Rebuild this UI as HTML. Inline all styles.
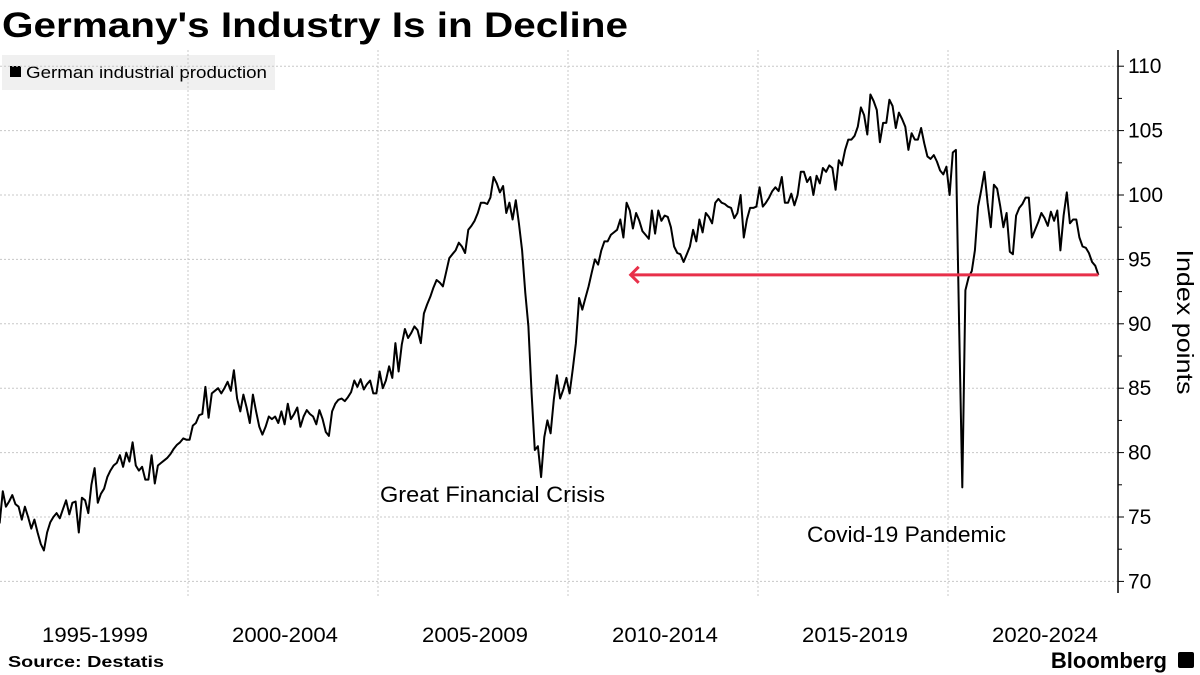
<!DOCTYPE html>
<html><head><meta charset="utf-8">
<style>
body{margin:0;background:#fff;width:1200px;height:675px;overflow:hidden;font-family:"Liberation Sans",sans-serif}
svg{position:absolute;left:0;top:0}
</style></head>
<body>
<svg id="chart" width="1200" height="675" viewBox="0 0 1200 675">
  <text x="2" y="37" font-size="35" font-weight="bold" fill="#000" textLength="626" lengthAdjust="spacingAndGlyphs">Germany's Industry Is in Decline</text>
  <g>
    <rect x="2" y="55" width="273" height="35" fill="#f0f0f0"/>
    <rect x="10" y="66" width="11" height="11" fill="#000"/>
    <text x="26" y="78" font-size="17" fill="#000" textLength="241" lengthAdjust="spacingAndGlyphs">German industrial production</text>
  </g>
  <g id="grid"></g>
  <g id="axis"></g>
  <g id="xaxis"></g>
  <text transform="translate(1177,322) rotate(90)" text-anchor="middle" font-size="23" fill="#000" textLength="145" lengthAdjust="spacingAndGlyphs">Index points</text>
  <text x="380" y="502" font-size="22" fill="#000" textLength="225" lengthAdjust="spacingAndGlyphs">Great Financial Crisis</text>
  <text x="807" y="542" font-size="22" fill="#000" textLength="199" lengthAdjust="spacingAndGlyphs">Covid-19 Pandemic</text>
  <path id="series" fill="none" stroke="#000" stroke-width="2" stroke-linejoin="round"/>
  <g id="arrow"></g>
  <text x="8" y="667" font-size="16" font-weight="bold" fill="#000" textLength="156" lengthAdjust="spacingAndGlyphs">Source: Destatis</text>
  <text x="1167" y="668" font-size="22" font-weight="bold" text-anchor="end" fill="#000">Bloomberg</text>
  <rect x="1178" y="652" width="16" height="16" rx="2" fill="#000"/>
</svg>
<script>
const startYear = 1995;
const yTicks = [70,75,80,85,90,95,100,105,110];
const xLabels = ["1995-1999","2000-2004","2005-2009","2010-2014","2015-2019","2020-2024"];
const xGridYears = [2000,2005,2010,2015,2020];
const arrowFromValue = 93.8;
const arrowToYear = 2011.65;
const values = [
74.5,77.0,75.8,76.2,76.7,76.0,75.8,74.8,75.8,75.0,74.1,74.8,
73.8,72.9,72.4,73.8,74.6,75.0,75.3,74.9,75.6,76.3,75.2,76.1,
76.2,73.8,76.5,76.3,75.3,77.5,78.8,76.1,76.8,77.2,78.1,78.6,
79.0,79.2,79.8,78.9,80.0,79.3,80.8,79.0,78.6,78.9,77.9,77.9,
79.8,77.6,79.0,79.2,79.4,79.6,79.9,80.3,80.6,80.8,81.1,81.0,
81.0,82.1,82.3,82.9,83.0,85.1,82.7,84.6,84.8,85.0,84.6,85.0,
85.5,84.8,86.4,84.2,83.2,84.5,83.5,82.3,84.5,83.2,82.0,81.4,
82.0,82.8,82.6,82.8,82.3,83.2,82.2,83.8,82.6,83.0,83.5,82.0,
82.8,83.3,83.0,82.8,82.2,83.3,82.6,81.6,81.3,83.2,83.8,84.1,
84.2,84.0,84.3,84.7,85.6,85.1,85.7,84.9,85.3,85.6,84.6,84.6,
86.3,85.0,85.6,86.7,85.8,88.5,86.3,88.4,89.6,88.9,89.3,89.8,
89.5,88.5,90.8,91.5,92.1,92.8,93.4,93.2,92.9,94.0,95.1,95.4,
95.7,96.3,96.0,95.5,97.3,97.6,98.0,98.6,99.4,99.4,99.3,99.8,
101.4,100.9,100.2,100.7,98.6,99.4,98.1,99.6,97.8,95.7,92.4,89.8,
84.6,80.2,80.5,78.1,81.2,82.5,81.5,84.1,86.0,84.2,84.9,85.8,
84.6,86.5,88.5,92.0,91.1,92.0,92.9,94.0,95.0,94.6,95.7,96.4,
96.4,96.9,97.1,97.3,98.1,96.7,99.4,98.8,97.4,98.6,98.0,97.2,
96.9,96.6,98.8,97.0,98.8,98.0,98.4,98.3,97.5,96.0,95.5,95.4,
94.8,95.4,96.0,97.3,96.4,98.1,97.1,98.6,98.3,97.8,99.4,99.7,
99.4,99.3,99.1,99.0,98.2,98.6,100.0,96.7,98.1,99.0,99.0,99.1,
100.6,99.1,99.4,99.8,100.3,100.6,100.3,101.4,99.4,99.4,100.1,99.2,
100.0,101.8,101.8,101.0,101.4,100.0,101.5,100.9,102.1,101.8,102.3,102.1,
100.4,102.7,102.3,103.5,104.3,104.3,104.6,105.3,106.8,106.2,104.7,107.8,
107.3,106.6,104.1,105.6,105.6,107.4,106.9,105.2,106.4,105.9,105.3,103.5,
104.8,104.3,104.3,105.2,104.0,103.0,102.8,103.1,102.6,101.9,101.6,102.2,
100.0,103.3,103.5,90.0,77.3,92.6,93.6,94.1,95.7,99.1,100.4,101.8,
99.4,97.5,100.8,100.5,99.1,97.5,98.6,95.6,95.4,98.4,99.0,99.3,
99.8,99.8,96.7,97.3,97.9,98.6,98.2,97.6,98.7,98.0,98.8,95.7,
98.4,100.2,97.8,98.1,98.1,96.7,96.0,95.9,95.5,94.8,94.5,93.8
];

const NS = "http://www.w3.org/2000/svg";
function xOfYear(yr){ return -2 + (yr - startYear) * 38; }
function xOfIndex(i){ return xOfYear(startYear + (i + 0.5) / 12); }
function yOf(v){ return 195 - (v - 100) * 12.88; }
function mk(tag, attrs, parent){
  const el = document.createElementNS(NS, tag);
  for (const k in attrs) el.setAttribute(k, attrs[k]);
  parent.appendChild(el);
  return el;
}
const grid = document.getElementById('grid');
const axis = document.getElementById('axis');
const xaxis = document.getElementById('xaxis');
const AX = 1118;

yTicks.forEach(t => {
  const y = yOf(t);
  const g = mk('line', {x1:0, x2:AX, y1:y, y2:y, stroke:'#c8c8c8', 'stroke-width':1, 'stroke-dasharray':'2,2'}, grid);
  
  
  const tk = mk('line', {x1:AX, x2:AX+6, y1:y, y2:y, stroke:'#000', 'stroke-width':1}, axis);
  
  
  const lb = mk('text', {x:AX+10, y:y+7, 'font-size':21, fill:'#000'}, axis);
  lb.textContent = t;
  
  
});
for (let t = 72.5; t < 110; t += 5) {
  const y = yOf(t);
  const tk = mk('line', {x1:AX, x2:AX+4, y1:y, y2:y, stroke:'#000', 'stroke-width':1}, axis);
  
  
}
const axLine = mk('line', {x1:AX, x2:AX, y1:50, y2:593, stroke:'#000', 'stroke-width':1.5}, axis);



xGridYears.forEach(yr => {
  const x = xOfYear(yr);
  const g = mk('line', {x1:x, x2:x, y1:50, y2:596, stroke:'#c8c8c8', 'stroke-width':1, 'stroke-dasharray':'2,2'}, grid);
  
  
});
xLabels.forEach((l, i) => {
  const x = xOfYear(startYear + i * 5 + 2.5) + 2;
  const t = mk('text', {x:x, y:642, 'font-size':21, 'text-anchor':'middle', fill:'#000', textLength:106, lengthAdjust:'spacingAndGlyphs'}, xaxis);
  t.textContent = l;
  
  
});

let d = '';
values.forEach((v, i) => { d += (i ? 'L' : 'M') + xOfIndex(i).toFixed(1) + ',' + yOf(v).toFixed(1); });
document.getElementById('series').setAttribute('d', d);

const arrow = document.getElementById('arrow');
const ax2 = xOfIndex(values.length - 1), ay = yOf(arrowFromValue), ax1 = xOfYear(arrowToYear);
const sh = mk('line', {x1:ax2, x2:ax1+2, y1:ay, y2:ay, stroke:'#e8304a', 'stroke-width':3}, arrow);


const hd = mk('polyline', {points:(ax1+8)+','+(ay-8)+' '+ax1+','+ay+' '+(ax1+8)+','+(ay+8), fill:'none', stroke:'#e8304a', 'stroke-width':3}, arrow);


</script>
</body></html>
